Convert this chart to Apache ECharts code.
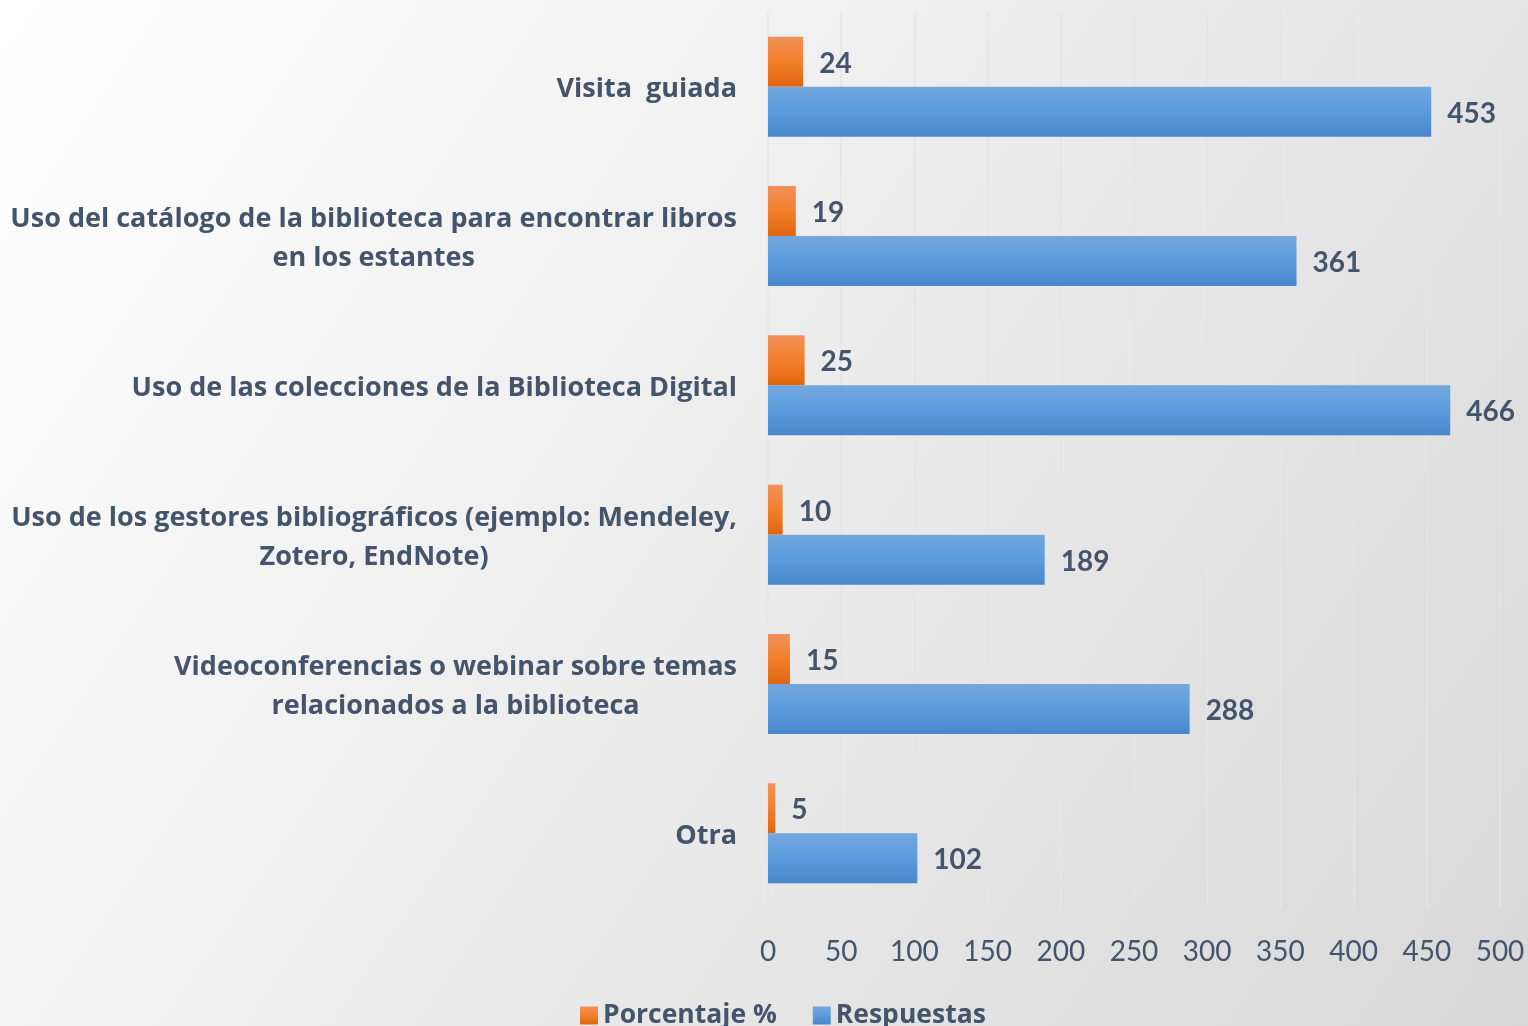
<!DOCTYPE html>
<html>
<head>
<meta charset="utf-8">
<script src="https://cdn.jsdelivr.net/npm/echarts@6/dist/echarts.min.js"></script>
<style>
html,body{margin:0;padding:0;}
#chart{width:1528px;height:1026px;}
</style>
</head>
<body>
<div id="chart"></div>
<script>
const categories = [
  "Visita  guiada",
  "Uso del catálogo de la biblioteca para encontrar libros\nen los estantes",
  "Uso de las colecciones de la Biblioteca Digital",
  "Uso de los gestores bibliográficos (ejemplo: Mendeley,\nZotero, EndNote)",
  "Videoconferencias o webinar sobre temas\nrelacionados a la biblioteca",
  "Otra"
];
const porcentaje = [24, 19, 25, 10, 15, 5];
const respuestas = [453, 361, 466, 189, 288, 102];
const xTicks = [0, 50, 100, 150, 200, 250, 300, 350, 400, 450, 500];

const FONT = 'Lato';
const WFONT = '"Open Sans"';
const TXT = '#44546A';

const chart = echarts.init(document.getElementById('chart'));
chart.setOption({
  backgroundColor: new echarts.graphic.LinearGradient(0, 0, 1, 1, [
    {offset: 0, color: '#FFFFFF'},
    {offset: 1, color: '#D8D8D8'}
  ]),
  textStyle: {fontFamily: FONT},
  grid: {left: 768, right: 28, top: 12, bottom: 118, containLabel: false},
  legend: {
    data: ['Porcentaje %', 'Respuestas'],
    left: 575, top: 997,
    itemWidth: 18, itemHeight: 18, itemGap: 36,
    icon: 'rect',
    textStyle: {fontFamily: WFONT, fontSize: 26.5, fontWeight: 'bold', color: TXT}
  },
  xAxis: {
    type: 'value', min: 0, max: 500, interval: 50,
    axisLine: {show: false}, axisTick: {show: false},
    splitLine: {show: true, lineStyle: {color: '#E2E5EA', width: 1.5}},
    axisLabel: {
      color: TXT, fontFamily: FONT, fontSize: 28, margin: 30,
      formatter: v => xTicks.includes(v) ? String(v) : ''
    }
  },
  yAxis: {
    type: 'category', inverse: true, data: categories,
    axisLine: {show: false}, axisTick: {show: false},
    axisLabel: {
      margin: 31, color: TXT, fontFamily: WFONT, fontSize: 27, fontWeight: 'bold',
      lineHeight: 39, padding: [6, 0, 0, 0],
      formatter: v => v.split('\n').map(l => '{c|' + l + '}').join('\n'),
      rich: {c: {align: 'center', color: TXT, fontFamily: WFONT, fontSize: 27, fontWeight: 'bold', lineHeight: 39}}
    }
  },
  series: [
    {
      name: 'Porcentaje %', type: 'bar', data: porcentaje,
      barGap: '0%', barCategoryGap: '33%',
      itemStyle: {color: new echarts.graphic.LinearGradient(0, 0, 0, 1, [
        {offset: 0, color: '#F1925A'}, {offset: 0.5, color: '#F37F2C'}, {offset: 1, color: '#E0660F'}
      ])},
      label: {show: true, position: 'right', distance: 16, offset: [0, 2], color: TXT, fontFamily: FONT, fontSize: 28, fontWeight: 'bold'}
    },
    {
      name: 'Respuestas', type: 'bar', data: respuestas,
      barGap: '0%', barCategoryGap: '33%',
      itemStyle: {color: new echarts.graphic.LinearGradient(0, 0, 0, 1, [
        {offset: 0, color: '#72A8DF'}, {offset: 0.5, color: '#5B9BDC'}, {offset: 1, color: '#4787CB'}
      ])},
      label: {show: true, position: 'right', distance: 16, offset: [0, 2], color: TXT, fontFamily: FONT, fontSize: 28, fontWeight: 'bold'}
    }
  ]
});
</script>
</body>
</html>
